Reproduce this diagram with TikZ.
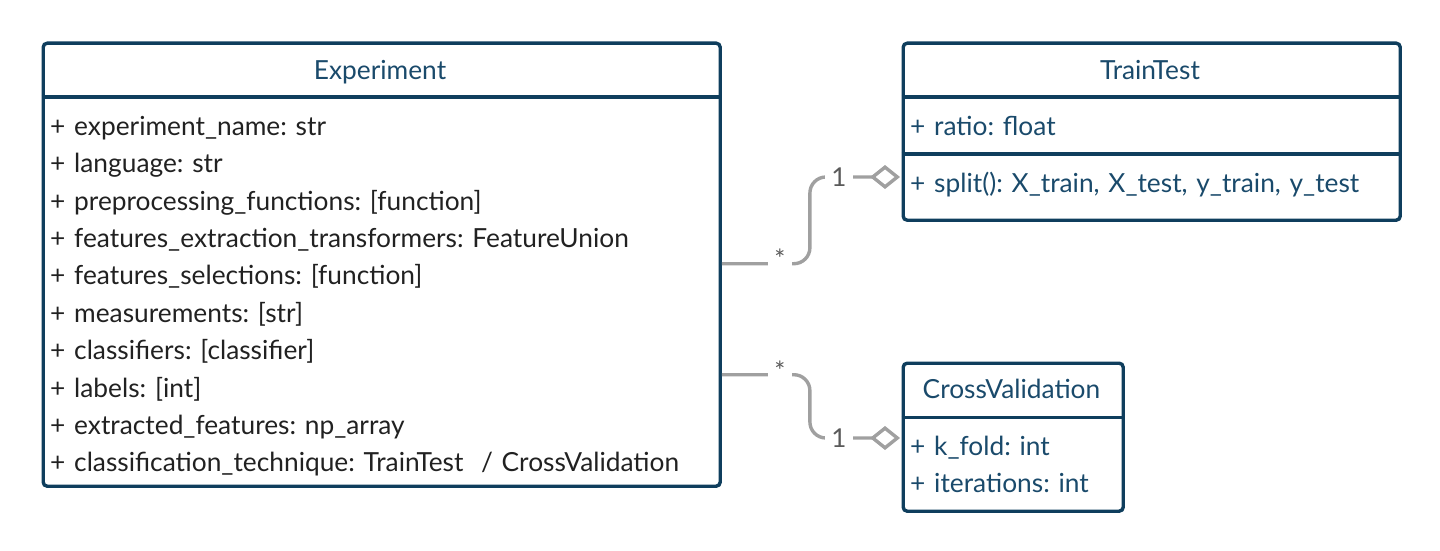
\documentclass[tikz,border=0pt]{standalone}
\usepackage{fontspec}
\setmainfont{Lato}
\usetikzlibrary{arrows.meta,positioning}

\definecolor{umlnavy}{HTML}{0F3E5D}
\definecolor{umlblue}{HTML}{1A4A6B}
\definecolor{umlgray}{HTML}{A0A0A0}
\definecolor{umllabel}{HTML}{5A5A5A}
\frenchspacing

\begin{document}
\begin{tikzpicture}[
  x=1pt, y=-1pt,
  node distance=0pt,
  classbox/.style={draw=umlnavy,line width=3.4pt,rounded corners=4pt,anchor=north west,inner sep=0pt},
  divider/.style={draw=umlnavy,line width=3.4pt},
  title/.style={anchor=base,text=umlblue,font=\fontsize{26.3}{30}\selectfont},
  attr/.style={text width=#1,align=left,inner sep=0pt,text height=28pt,text depth=9pt,text=umlblue,font=\fontsize{26.3}{30}\selectfont},
  assoc/.style={draw=umlgray,line width=3.4pt,rounded corners=16pt,-{Diamond[open,length=30pt,width=24pt]}},
  mult/.style={fill=white,text=umllabel,inner xsep=6pt,inner ysep=2pt}
]
\useasboundingbox (0,0) rectangle (1440,551);

% Experiment
\node[classbox,minimum width=677pt,minimum height=443pt] (exp) at (41.5,41.5) {};
\node[title] (exp-title) at (380,79) {Experiment};
\draw[divider] ([yshift=-55.5pt]exp.north west) -- ([yshift=-55.5pt]exp.north east);
\node[attr=660pt,anchor=north west,text=black!87] (e1) at (50,107) {+ experiment\_name: str};
\node[attr=660pt,below=of e1,text=black!87] (e2) {+ language: str};
\node[attr=660pt,below=of e2,text=black!87] (e3) {+ preprocessing\_functions: [function]};
\node[attr=660pt,below=of e3,text=black!87] (e4) {+ features\_extraction\_transformers: FeatureUnion};
\node[attr=660pt,below=of e4,text=black!87] (e5) {+ features\_selections: [function]};
\node[attr=660pt,below=of e5,text=black!87] (e6) {+ measurements: [str]};
\node[attr=660pt,below=of e6,text=black!87] (e7) {+ classifiers: [classifier]};
\node[attr=660pt,below=of e7,text=black!87] (e8) {+ labels: [int]};
\node[attr=660pt,below=of e8,text=black!87] (e9) {+ extracted\_features: np\_array};
\node[attr=660pt,below=of e9,text=black!87] (e10) {+ classification\_technique: TrainTest\ \ / CrossValidation};

% TrainTest
\node[classbox,minimum width=497pt,minimum height=177pt] (tt) at (901.5,41.5) {};
\node[title] (tt-title) at (1150,79) {TrainTest};
\draw[divider] ([yshift=-55.5pt]tt.north west) -- ([yshift=-55.5pt]tt.north east);
\draw[divider] ([yshift=-112.5pt]tt.north west) -- ([yshift=-112.5pt]tt.north east);
\node[attr=480pt,anchor=north west] (t1) at (910,107) {+ ratio: float};
\node[attr=480pt,anchor=north west] (t2) at (910,164) {+ split(): X\_train, X\_test, y\_train, y\_test};

% CrossValidation
\node[classbox,minimum width=220pt,minimum height=148pt] (cv) at (901.5,361.5) {};
\node[title] (cv-title) at (1011.5,398) {CrossValidation};
\draw[divider] ([yshift=-56pt]cv.north west) -- ([yshift=-56pt]cv.north east);
\node[attr=205pt,anchor=north west] (c1) at (910,427) {+ k\_fold: int};
\node[attr=205pt,below=of c1] (c2) {+ iterations: int};

% associations
\coordinate (tt-link) at (900,177);
\coordinate (cv-link) at (900,438);
\draw[assoc] ([yshift=1pt]exp.east) -- ++(88,0) |- (tt-link);
\draw[assoc] ([yshift=-110pt]exp.east) -- ++(88,0) |- (cv-link);
\node[mult,font=\fontsize{26}{26}\selectfont] (tt-many) at (780,259) {*};
\node[mult,font=\fontsize{26}{26}\selectfont] (tt-one) at (839,177) {1};
\node[mult,font=\fontsize{26}{26}\selectfont] (cv-many) at (780,371) {*};
\node[mult,font=\fontsize{26}{26}\selectfont] (cv-one) at (839,438) {1};
\end{tikzpicture}
\end{document}
